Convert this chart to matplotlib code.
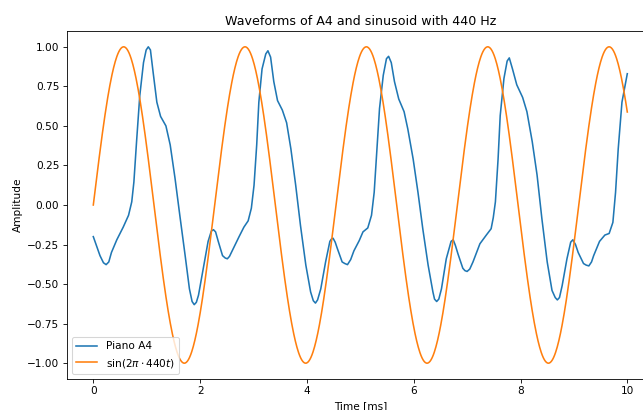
import numpy as np
import matplotlib
matplotlib.use("Agg")
import matplotlib.pyplot as plt

# Piano A4 waveform (time in ms, amplitude)
piano_t = [0.0, 0.125, 0.19, 0.24, 0.29, 0.34, 0.44, 0.56, 0.66, 0.72, 0.76, 0.81, 0.87,
           0.94, 0.99, 1.03, 1.07, 1.12, 1.19, 1.26, 1.36, 1.44, 1.53, 1.62, 1.72, 1.80,
           1.85, 1.89, 1.93, 1.97, 2.06, 2.15, 2.21, 2.25, 2.29, 2.34, 2.42, 2.47, 2.51,
           2.55, 2.60, 2.73, 2.82, 2.90, 2.96, 3.01, 3.06, 3.10, 3.16, 3.23, 3.27, 3.32,
           3.38, 3.45, 3.54, 3.62, 3.70, 3.79, 3.88, 3.98, 4.07, 4.12, 4.16, 4.20, 4.26,
           4.35, 4.43, 4.46, 4.49, 4.53, 4.57, 4.66, 4.71, 4.76, 4.82, 4.88, 4.98, 5.05,
           5.14, 5.21, 5.26, 5.30, 5.36, 5.43, 5.49, 5.53, 5.58, 5.64, 5.72, 5.82, 5.89,
           5.99, 6.08, 6.17, 6.27, 6.36, 6.39, 6.43, 6.47, 6.52, 6.61, 6.70, 6.74, 6.78,
           6.83, 6.92, 6.96, 7.00, 7.05, 7.11, 7.24, 7.36, 7.45, 7.49, 7.53, 7.58, 7.62,
           7.69, 7.75, 7.79, 7.85, 7.93, 8.04, 8.12, 8.22, 8.31, 8.40, 8.50, 8.59, 8.65,
           8.69, 8.73, 8.78, 8.87, 8.94, 8.98, 9.03, 9.08, 9.18, 9.23, 9.28, 9.33, 9.37,
           9.48, 9.58, 9.66, 9.73, 9.78, 9.83, 9.90, 10.0]
piano_a = [-0.20, -0.32, -0.365, -0.377, -0.36, -0.30, -0.22, -0.14, -0.065, 0.02, 0.145, 0.40, 0.69,
           0.90, 0.98, 1.00, 0.98, 0.84, 0.65, 0.56, 0.50, 0.38, 0.17, -0.065, -0.32, -0.53,
           -0.61, -0.63, -0.615, -0.57, -0.40, -0.23, -0.165, -0.156, -0.17, -0.23, -0.32, -0.335, -0.34,
           -0.325, -0.29, -0.20, -0.14, -0.10, -0.02, 0.125, 0.38, 0.65, 0.86, 0.955, 0.975, 0.935,
           0.78, 0.66, 0.60, 0.52, 0.355, 0.125, -0.13, -0.38, -0.55, -0.605, -0.62, -0.60, -0.53,
           -0.36, -0.23, -0.215, -0.21, -0.235, -0.275, -0.36, -0.37, -0.377, -0.345, -0.29, -0.225, -0.17,
           -0.145, -0.065, 0.08, 0.29, 0.61, 0.82, 0.925, 0.94, 0.90, 0.78, 0.67, 0.59, 0.48,
           0.29, 0.08, -0.15, -0.38, -0.55, -0.595, -0.61, -0.595, -0.53, -0.34, -0.23, -0.22, -0.255,
           -0.31, -0.40, -0.415, -0.42, -0.405, -0.36, -0.245, -0.19, -0.15, -0.08, 0.02, 0.29, 0.565,
           0.80, 0.91, 0.93, 0.86, 0.76, 0.68, 0.59, 0.40, 0.19, -0.085, -0.36, -0.54, -0.585,
           -0.60, -0.585, -0.51, -0.34, -0.235, -0.22, -0.25, -0.30, -0.37, -0.38, -0.385, -0.36, -0.32,
           -0.23, -0.19, -0.18, -0.11, 0.08, 0.355, 0.65, 0.83]

# reference sinusoid, as given in the legend
freq = 440
t_ms = np.linspace(0, 10, 1000)
sinus = np.sin(2 * np.pi * freq * t_ms / 1000)

dpi = 76
fig = plt.figure(figsize=(643 / dpi, 410 / dpi), dpi=dpi)
# axes run past the right edge, like in the cropped reference
ax = fig.add_axes([66.6 / 643, 31 / 410, (654 - 66.6) / 643, 348 / 410])

ax.plot(piano_t, piano_a, label="Piano A4")
ax.plot(t_ms, sinus, label=r"sin($2\pi \cdot 440t$)")

ax.set_title("Waveforms of A4 and sinusoid with 440 Hz")
ax.set_xlabel("Time [ms]")
ax.set_ylabel("Amplitude")
ax.legend(loc="lower left")

fig.savefig("out.png", dpi=dpi)
